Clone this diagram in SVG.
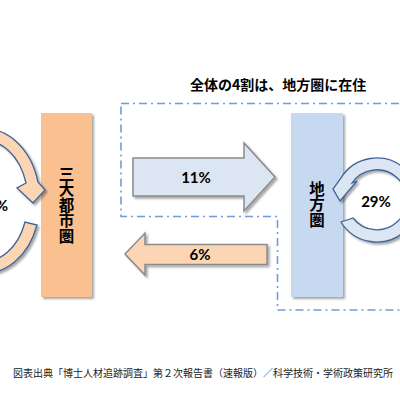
<svg xmlns="http://www.w3.org/2000/svg" width="400" height="400" viewBox="0 0 400 400">
<defs>
<filter id="sh" x="-20%" y="-20%" width="150%" height="150%">
<feDropShadow dx="2" dy="2" stdDeviation="1.2" flood-color="#000" flood-opacity="0.35"/>
</filter>
</defs>
<style>
.jp{font-family:"Noto Sans CJK JP","Noto Sans",sans-serif;}
.b{font-weight:bold;}
.vt{writing-mode:vertical-rl;text-orientation:upright;}
.pct{font-family:Lato,"Liberation Sans",sans-serif;font-weight:bold;font-size:15px;fill:#000;}
.arr{stroke:#8a8a8a;stroke-width:1.5;filter:url(#sh);}
.loop{stroke:#3f6496;stroke-width:1.3;filter:url(#sh);}
.region{fill:none;stroke:#6d9ddb;stroke-width:1.6;stroke-dasharray:8 4 2 4;}
</style>
<rect width="400" height="400" fill="#fff"/>
<g id="region">
<path class="region" d="M121 103.5 L406 103.5 L406 310 L277.5 310 L277.5 216.5 L121 216.5 Z"/>
</g>
<g id="title">
<text class="jp b" x="190" y="89.5" font-size="14" fill="#000">全体の4割は、地方圏に在住</text>
</g>
<g id="node-sandai">
<rect x="41" y="113" width="51" height="184" fill="#fac090" filter="url(#sh)"/>
<text class="jp b vt" x="66.5" y="166" font-size="15.5" fill="#000">三大都市圏</text>
</g>
<g id="node-chihou">
<rect x="291" y="113" width="52" height="184" fill="#c6d9f1" filter="url(#sh)"/>
<text class="jp b vt" x="317" y="181" font-size="15.5" fill="#000">地方圏</text>
</g>
<g id="connectors">
<g id="arrow-11">
<path class="arr" fill="#dce6f2" d="M133 158 H244 V143 L275 177 L244 211 V196 H133 Z"/>
<text class="pct" x="196" y="182.5" text-anchor="middle">11%</text>
</g>
<g id="arrow-6">
<path class="arr" fill="#fcd5b5" d="M267 244.5 H145 V233 L125 254 L145 275 V264.5 H267 Z"/>
<text class="pct" x="200" y="260" text-anchor="middle">6%</text>
</g>
<g id="loop-left">
<path class="loop" fill="#fcd5b5" d="M-20 129 A55 72 0 0 1 38 182 L45 190 L33 203 L17 188 L26 183 A43 60 0 0 0 -20 141 Z"/>
<path class="loop" fill="#fcd5b5" d="M37 225 A55 72 0 0 1 -20 273 L-20 261 A43 60 0 0 0 25 222 Z"/>
<text class="pct" x="8" y="211" text-anchor="end">%</text>
</g>
<g id="loop-right">
<path class="loop" fill="#dce6f2" d="M341 222 A42 42 0 1 0 341 178 L333 189 L340 201 L357 181 L352 183 A30 30 0 1 1 353 218 Z"/>
<text class="pct" x="376" y="206.5" text-anchor="middle">29%</text>
</g>
</g>
<g id="footer">
<text class="jp" x="13" y="377" font-size="10" fill="#222" textLength="380" lengthAdjust="spacingAndGlyphs">図表出典「博士人材追跡調査」第２次報告書（速報版）／科学技術・学術政策研究所</text>
</g>
</svg>
